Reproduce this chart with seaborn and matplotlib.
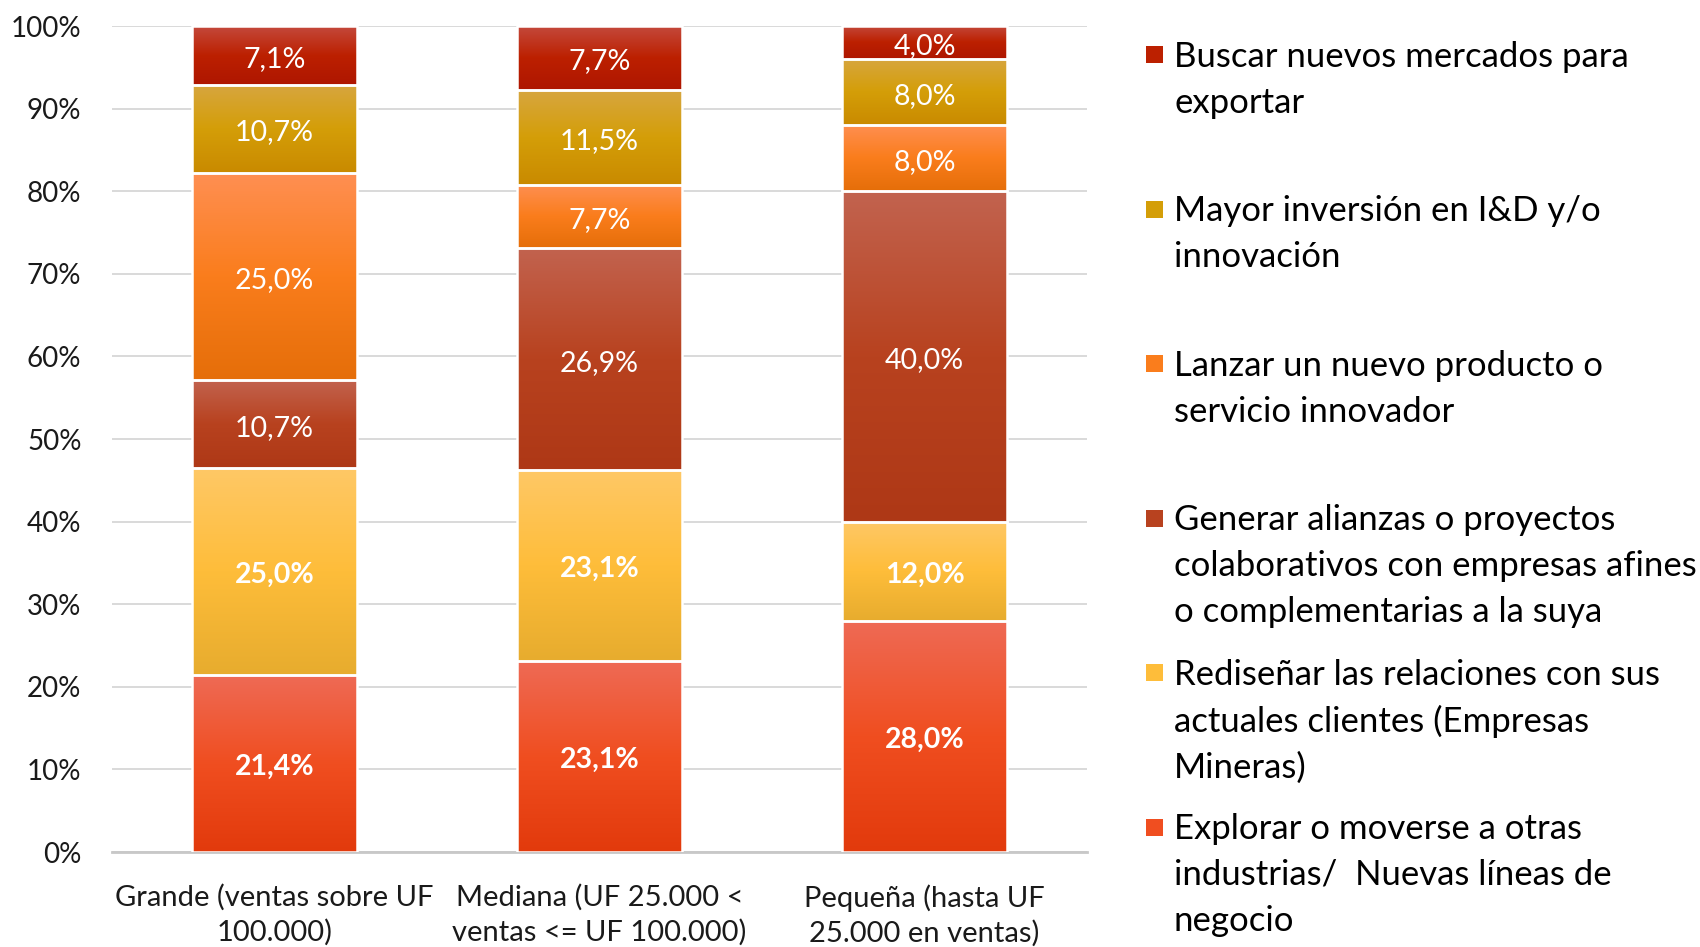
import numpy as np
import pandas as pd
import matplotlib
matplotlib.use("Agg")
import matplotlib.pyplot as plt
from matplotlib.colors import LinearSegmentedColormap
from matplotlib.patches import Rectangle
import seaborn as sns

# Data (percent of companies per size group), stacked bottom -> top
sizes = ["Grande (ventas sobre UF\n100.000)",
         "Mediana (UF 25.000 <\nventas <= UF 100.000)",
         "Pequeña (hasta UF\n25.000 en ventas)"]

series = ["Explorar o moverse a otras\nindustrias/  Nuevas líneas de\nnegocio",
          "Rediseñar las relaciones con sus\nactuales clientes (Empresas\nMineras)",
          "Generar alianzas o proyectos\ncolaborativos con empresas afines\no complementarias a la suya",
          "Lanzar un nuevo producto o\nservicio innovador",
          "Mayor inversión en I&D y/o\ninnovación",
          "Buscar nuevos mercados para\nexportar"]

explorar = [21.4, 23.1, 28.0]
redisenar = [25.0, 23.1, 12.0]
alianzas = [10.7, 26.9, 40.0]
lanzar = [25.0, 7.7, 8.0]
inversion = [10.7, 11.5, 8.0]
exportar = [7.1, 7.7, 4.0]

values = [explorar, redisenar, alianzas, lanzar, inversion, exportar]
bold_labels = [True, True, False, False, False, False]

# gradient colours (top, middle, bottom) per series
colors = [("#EE6A55", "#F04E20", "#E23A0C"),
          ("#FFC866", "#FEBD3A", "#E7AC2E"),
          ("#C2634F", "#B8421F", "#AE3816"),
          ("#FF8F52", "#FA7D1C", "#E56E09"),
          ("#D7A640", "#D49E08", "#C98A00"),
          ("#C4493C", "#BC2000", "#AE1600")]

sns.set_style("white")
plt.rcParams["font.family"] = ["Lato", "DejaVu Sans"]

fig = plt.figure(figsize=(17, 9.47), dpi=100)
ax = fig.add_axes([0.0659, 0.1003, 0.5735, 0.8722])

totals = np.sum(values, axis=0)
bottoms = np.zeros(len(sizes))
for vals, col, bold in zip(values, colors, bold_labels):
    share = np.array(vals) / totals * 100
    n_before = len(ax.patches)
    sns.barplot(x=sizes, y=share, bottom=bottoms, color=col[1], saturation=1,
                width=0.51, edgecolor="white", linewidth=1.8, ax=ax, zorder=3)
    cmap = LinearSegmentedColormap.from_list("g", list(col))
    grad = np.linspace(0, 1, 256).reshape(-1, 1)
    for patch, v in zip(ax.patches[n_before:], vals):
        x, y = patch.get_x(), patch.get_y()
        w, h = patch.get_width(), patch.get_height()
        im = ax.imshow(grad, cmap=cmap, extent=[x, x + w, y, y + h],
                       aspect="auto", origin="upper", zorder=3.5)
        im.set_clip_path(patch)
        patch.set_facecolor("none")
        patch.set_zorder(4)
        ax.annotate(f"{v:.1f}".replace(".", ",") + "%", (x + w / 2, y + h / 2),
                    xytext=(0, -2.5), textcoords="offset points",
                    ha="center", va="center", color="white", fontsize=20.5,
                    fontweight="bold" if bold else "normal", zorder=5)
    bottoms = bottoms + share

ax.set_xlim(-0.5, 2.5)
ax.set_ylim(0, 100)
ax.set_yticks(range(0, 101, 10))
ax.set_yticklabels([f"{t}%" for t in range(0, 101, 10)])
ax.tick_params(axis="y", length=0, pad=22, labelsize=20, labelcolor="#1a1a1a")
ax.tick_params(axis="x", length=0, pad=23, labelsize=21, labelcolor="#1a1a1a")
for lbl in ax.get_xticklabels():
    lbl.set_linespacing(1.36)
    lbl.set_multialignment("center")
ax.yaxis.grid(True, color="#D9D9D9", linewidth=1.4)
ax.set_axisbelow(True)
sns.despine(ax=ax, left=True, top=True, right=True, bottom=False)
ax.spines["bottom"].set_color("#C8C8C8")
ax.spines["bottom"].set_linewidth(2)
ax.set_xlabel("")
ax.set_ylabel("")

# legend drawn as a column of entries, top entry = top series
entry_top = 1 - 55 / 947
step = 154.4 / 947
for i, (name, col) in enumerate(zip(series[::-1], colors[::-1])):
    yc = entry_top - i * step
    fig.patches.append(Rectangle((1146 / 1700, yc - 8.5 / 947), 17 / 1700, 17 / 947,
                                 transform=fig.transFigure, facecolor=col[1],
                                 edgecolor="none"))
    fig.text(1174 / 1700, yc + 14 / 947, name, ha="left", va="top",
             fontsize=25, color="black", linespacing=1.53)

fig.savefig("out.png", dpi=100)
